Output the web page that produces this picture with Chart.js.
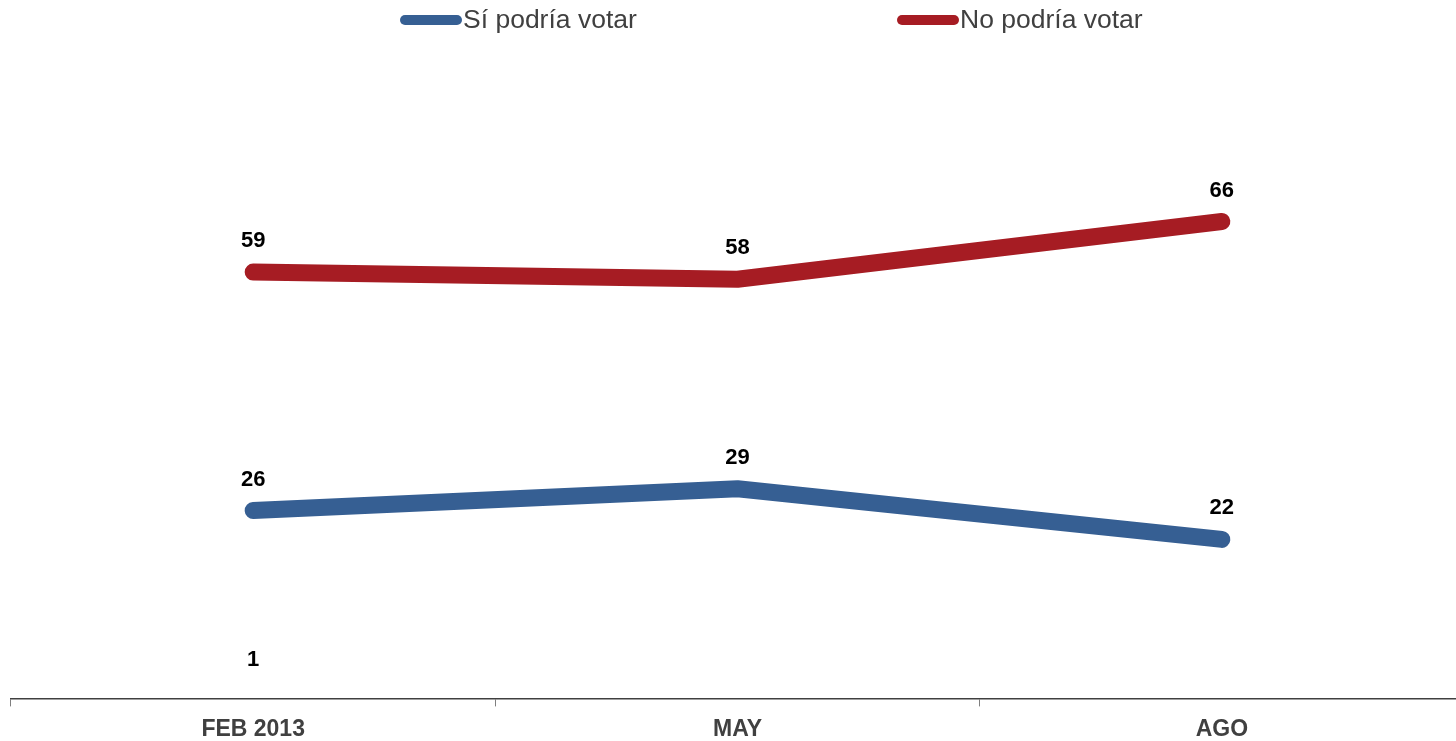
<!DOCTYPE html>
<html>
<head>
<meta charset="utf-8">
<script src="https://cdn.jsdelivr.net/npm/chart.js@4"></script>
<style>
  html, body { margin: 0; padding: 0; background: #fff; overflow: hidden; }
  #chart { position: absolute; left: 0; top: 0; }
</style>
</head>
<body>
<canvas id="chart" width="1464" height="741"></canvas>
<script>
// ── Data ──────────────────────────────────────────────────────────────────
const periods = ['FEB 2013', 'MAY', 'AGO'];
const siVotar = [26, 29, 22];
const noVotar = [59, 58, 66];
const noSabe = [1, null, null];

const BLUE = '#365F93';
const RED = '#A61C23';

// value labels above each point
const valueLabels = {
    id: 'valueLabels',
    afterDatasetsDraw(chart) {
        const ctx = chart.ctx;
        ctx.save();
        ctx.font = 'bold 22px "Liberation Sans", Arial, sans-serif';
        ctx.fillStyle = '#000';
        ctx.textAlign = 'center';
        ctx.textBaseline = 'middle';
        chart.data.datasets.forEach((ds, i) => {
            chart.getDatasetMeta(i).data.forEach((pt, j) => {
                const v = ds.data[j];
                if (v === null || v === undefined) return;
                ctx.fillText(String(v), pt.x, pt.y - 31);
            });
        });
        ctx.restore();
    }
};

// legend with line samples, placed like the original
const lineLegend = {
    id: 'lineLegend',
    afterDraw(chart) {
        const ctx = chart.ctx;
        const items = [
            { text: 'Sí podría votar', color: BLUE, x: 400 },
            { text: 'No podría votar', color: RED, x: 897 }
        ];
        ctx.save();
        ctx.font = '26.5px "Liberation Sans", Arial, sans-serif';
        ctx.textBaseline = 'middle';
        ctx.textAlign = 'left';
        items.forEach(it => {
            ctx.strokeStyle = it.color;
            ctx.lineWidth = 10;
            ctx.lineCap = 'round';
            ctx.beginPath();
            ctx.moveTo(it.x + 5, 20);
            ctx.lineTo(it.x + 57, 20);
            ctx.stroke();
            ctx.fillStyle = '#404040';
            ctx.fillText(it.text, it.x + 63, 21);
        });
        ctx.restore();
    }
};

new Chart(document.getElementById('chart').getContext('2d'), {
    type: 'line',
    data: {
        labels: periods,
        datasets: [
            { label: 'Sí podría votar', data: siVotar, borderColor: BLUE, backgroundColor: BLUE, borderWidth: 17, borderCapStyle: 'round', borderJoinStyle: 'round', pointRadius: 0, tension: 0 },
            { label: 'No podría votar', data: noVotar, borderColor: RED, backgroundColor: RED, borderWidth: 17, borderCapStyle: 'round', borderJoinStyle: 'round', pointRadius: 0, tension: 0 },
            { label: 'No sabe', data: noSabe, borderColor: 'rgba(0,0,0,0)', borderWidth: 0, pointRadius: 0 }
        ]
    },
    options: {
        responsive: false,
        devicePixelRatio: 1,
        animation: false,
        layout: { padding: { top: 48, left: 11, right: 0, bottom: -11 } },
        plugins: { legend: { display: false }, tooltip: { enabled: false } },
        scales: {
            y: { display: false, min: 0, max: 90 },
            x: {
                offset: true,
                grid: { offset: true, drawOnChartArea: false, drawTicks: true, tickLength: 8, color: '#7f7f7f' },
                border: { display: true, color: '#404040', width: 1.5 },
                ticks: { color: '#404040', padding: 9, font: { family: '"Liberation Sans", Arial, sans-serif', size: 23, weight: 'bold' } }
            }
        }
    },
    plugins: [valueLabels, lineLegend]
});
</script>
</body>
</html>
